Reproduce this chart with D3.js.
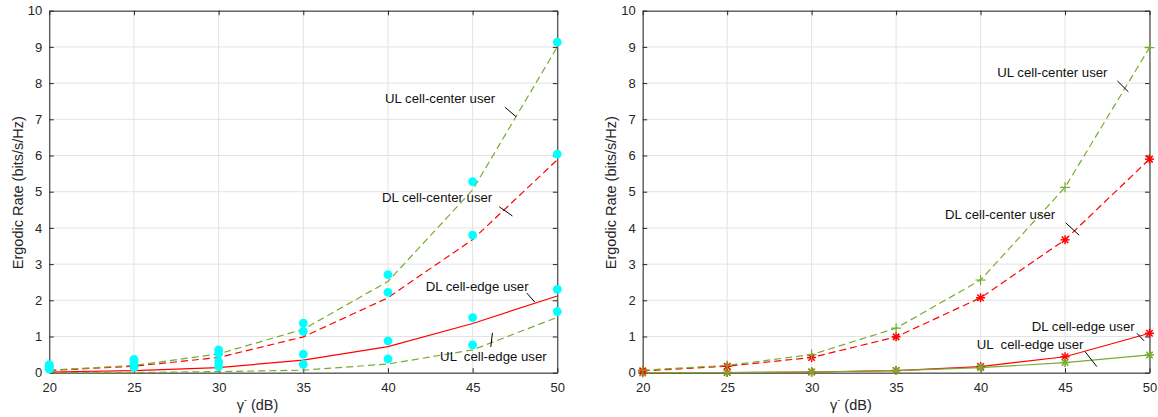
<!DOCTYPE html>
<html>
<head>
<meta charset="utf-8">
<script src="https://cdn.jsdelivr.net/npm/d3@7"></script>
<style>
  html, body { margin: 0; padding: 0; background: #fff; }
  svg { display: block; font-family: "Liberation Sans", Arial, Helvetica, sans-serif; }
</style>
</head>
<body>
<svg id="chart" width="1158" height="417"></svg>
<script>
// ---- data ----
const gammaDb = [20, 25, 30, 35, 40, 45, 50];
const xTicks = [20, 25, 30, 35, 40, 45, 50];
const yTicks = [0, 1, 2, 3, 4, 5, 6, 7, 8, 9, 10];

// left panel: analytical curves
const ulCenterL = [0.07, 0.20, 0.52, 1.20, 2.52, 5.05, 9.00];
const dlCenterL = [0.06, 0.18, 0.42, 0.99, 2.07, 3.68, 5.88];
const dlEdgeL   = [0.02, 0.06, 0.14, 0.35, 0.72, 1.36, 2.12];
const ulEdgeL   = [0.00, 0.005, 0.03, 0.07, 0.24, 0.63, 1.53];
// left panel: simulation markers
const ulCenterSim = [0.22, 0.37, 0.63, 1.37, 2.71, 5.28, 9.13];
const dlCenterSim = [0.18, 0.30, 0.53, 1.14, 2.22, 3.80, 6.04];
const dlEdgeSim   = [0.13, 0.22, 0.30, 0.51, 0.88, 1.52, 2.30];
const ulEdgeSim   = [0.10, 0.15, 0.17, 0.23, 0.38, 0.77, 1.69];

// right panel
const ulCenterR = [0.07, 0.20, 0.50, 1.23, 2.56, 5.12, 8.98];
const dlCenterR = [0.05, 0.18, 0.42, 0.99, 2.07, 3.67, 5.90];
const dlEdgeR   = [0.00, 0.005, 0.02, 0.06, 0.17, 0.44, 1.09];
const ulEdgeR   = [0.00, 0.005, 0.02, 0.06, 0.14, 0.28, 0.49];

const labelUlCenter = "UL cell-center user";
const labelDlCenter = "DL cell-center user";
const labelDlEdge = "DL cell-edge user";
const labelUlEdge = "UL  cell-edge user";
const yLabel = "Ergodic Rate (bits/s/Hz)";

// ---- styles ----
const GREEN = "#77AC30", RED = "#FF0000", CYAN = "#00FFFF";
const AXIS = "#262626", GRID = "#e3e3e3";

const svg = d3.select("#chart");

function drawPanel(p) {
  const x = d3.scaleLinear().domain([20, 50]).range([p.x0, p.x1]);
  const y = d3.scaleLinear().domain([0, 10]).range([372.7, 10.7]);
  const g = svg.append("g");

  // grid
  g.append("g").selectAll("line").data(xTicks).join("line")
    .attr("x1", d => x(d)).attr("x2", d => x(d))
    .attr("y1", y(0)).attr("y2", y(10))
    .attr("stroke", GRID).attr("stroke-width", 1);
  g.append("g").selectAll("line").data(yTicks).join("line")
    .attr("x1", x(20)).attr("x2", x(50))
    .attr("y1", d => y(d)).attr("y2", d => y(d))
    .attr("stroke", GRID).attr("stroke-width", 1);

  // axes with inward ticks
  const tl = 4.5;
  const ax = g.append("g").attr("transform", `translate(0,${y(0)})`)
    .call(d3.axisBottom(x).tickValues(xTicks).tickSizeInner(-tl).tickSizeOuter(0).tickPadding(10));
  const axT = g.append("g").attr("transform", `translate(0,${y(10)})`)
    .call(d3.axisTop(x).tickValues(xTicks).tickSizeInner(-tl).tickSizeOuter(0).tickFormat(""));
  const ay = g.append("g").attr("transform", `translate(${x(20)},0)`)
    .call(d3.axisLeft(y).tickValues(yTicks).tickSizeInner(-tl).tickSizeOuter(0).tickPadding(7));
  const ayR = g.append("g").attr("transform", `translate(${x(50)},0)`)
    .call(d3.axisRight(y).tickValues(yTicks).tickSizeInner(-tl).tickSizeOuter(0).tickFormat(""));
  [ax, axT, ay, ayR].forEach(a => {
    a.select(".domain").attr("stroke", AXIS).attr("stroke-width", 1);
    a.selectAll(".tick line").attr("stroke", AXIS);
    a.selectAll("text").attr("fill", AXIS).attr("font-size", 13)
      .attr("font-family", "'Liberation Sans', Arial, sans-serif");
  });

  // axis labels
  g.append("text")
    .attr("transform", `translate(${p.x0 - 31.5},${y(5) + 1}) rotate(-90)`)
    .attr("text-anchor", "middle").attr("dominant-baseline", "central")
    .attr("font-size", 14.5).attr("fill", AXIS).text(yLabel);
  const xl = g.append("text")
    .attr("x", p.x0 + 187.4).attr("y", 410)
    .attr("font-size", 14.5).attr("fill", AXIS);
  xl.append("tspan").text("γ");
  xl.append("tspan").attr("dy", -7).attr("font-size", 9).text("-");
  xl.append("tspan").attr("dy", 7).text(" (dB)");

  const line = d3.line().x((d, i) => x(gammaDb[i])).y(d => y(d));
  const plot = g.append("g");

  p.series.forEach(s => {
    plot.append("path").datum(s.values)
      .attr("d", line).attr("fill", "none")
      .attr("stroke", s.color).attr("stroke-width", 1.2)
      .attr("stroke-dasharray", s.dash ? "7,4" : null);
  });

  // markers
  p.series.forEach(s => {
    if (!s.marker) return;
    const mg = plot.append("g");
    s.values.forEach((v, i) => {
      const cx = x(gammaDb[i]), cy = y(v);
      const r = s.marker === "plus" ? 5 : 4.5;
      const mk = mg.append("g").attr("transform", `translate(${cx},${cy})`)
        .attr("stroke", s.color).attr("stroke-width", s.marker === "plus" ? 1.2 : 1.5);
      mk.append("line").attr("x1", -r).attr("x2", r).attr("y1", 0).attr("y2", 0);
      mk.append("line").attr("x1", 0).attr("x2", 0).attr("y1", -r).attr("y2", r);
      if (s.marker === "star") {
        const q = r * 0.72;
        mk.append("line").attr("x1", -q).attr("x2", q).attr("y1", -q).attr("y2", q);
        mk.append("line").attr("x1", -q).attr("x2", q).attr("y1", q).attr("y2", -q);
      }
    });
  });

  if (p.sims) {
    p.sims.forEach(vals => {
      plot.append("g").selectAll("circle").data(vals).join("circle")
        .attr("cx", (d, i) => x(gammaDb[i])).attr("cy", d => y(d))
        .attr("r", 4.4).attr("fill", CYAN);
    });
  }

  // annotations
  p.notes.forEach(n => {
    g.append("text").attr("x", x(n.tx)).attr("y", y(n.ty))
      .attr("dominant-baseline", "central").attr("font-size", 13.2)
      .attr("fill", "#111").style("white-space", "pre").attr("xml:space", "preserve")
      .text(n.text);
    g.append("line")
      .attr("x1", x(n.l[0])).attr("y1", y(n.l[1]))
      .attr("x2", x(n.l[2])).attr("y2", y(n.l[3]))
      .attr("stroke", "#000").attr("stroke-width", 1);
  });
}

drawPanel({
  x0: 49.3, x1: 557.3,
  series: [
    { values: ulEdgeL, color: GREEN, dash: true },
    { values: dlEdgeL, color: RED, dash: false },
    { values: dlCenterL, color: RED, dash: true },
    { values: ulCenterL, color: GREEN, dash: true }
  ],
  sims: [ulCenterSim, dlCenterSim, dlEdgeSim, ulEdgeSim],
  notes: [
    { text: labelUlCenter, tx: 39.83, ty: 7.58, l: [46.92, 7.33, 47.57, 7.07] },
    { text: labelDlCenter, tx: 39.65, ty: 4.83, l: [46.58, 4.58, 47.35, 4.33] },
    { text: labelDlEdge, tx: 42.23, ty: 2.37, l: [48.2, 2.2, 48.67, 1.95] },
    { text: labelUlEdge, tx: 43.08, ty: 0.44, l: [46.17, 1.10, 46.07, 0.71] }
  ]
});

drawPanel({
  x0: 642.7, x1: 1149.5,
  series: [
    { values: dlEdgeR, color: RED, dash: false, marker: "star" },
    { values: ulEdgeR, color: GREEN, dash: false, marker: "star" },
    { values: dlCenterR, color: RED, dash: true, marker: "star" },
    { values: ulCenterR, color: GREEN, dash: true, marker: "plus" }
  ],
  notes: [
    { text: labelUlCenter, tx: 40.99, ty: 8.28, l: [48.1, 8.06, 48.75, 7.76] },
    { text: labelDlCenter, tx: 37.9, ty: 4.38, l: [45.04, 4.14, 45.83, 3.8] },
    { text: labelDlEdge, tx: 43.03, ty: 1.27, l: [49.25, 1.09, 49.68, 0.88] },
    { text: labelUlEdge, tx: 39.78, ty: 0.78, l: [46.19, 0.58, 46.88, 0.17] }
  ]
});
</script>
</body>
</html>
